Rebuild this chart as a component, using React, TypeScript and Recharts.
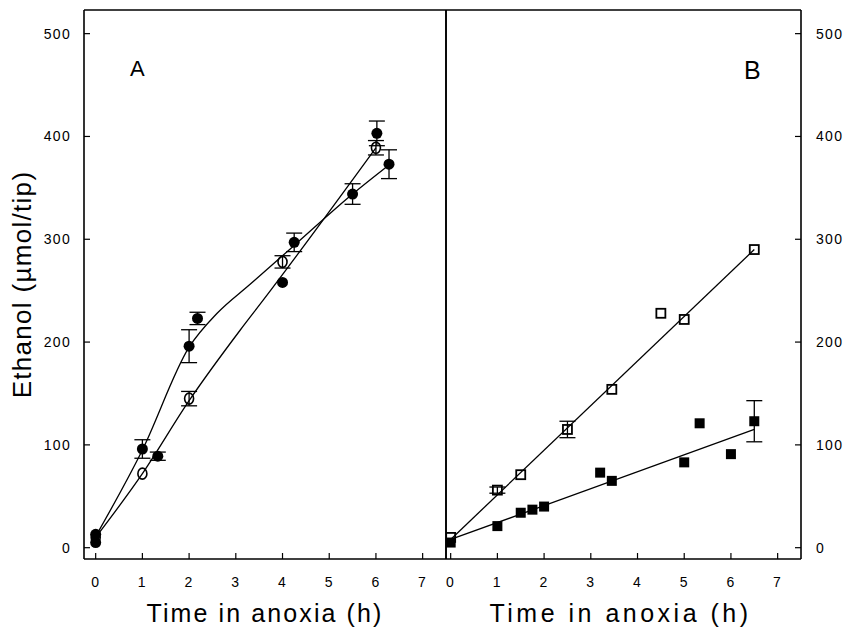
import { ComposedChart, Scatter, Line, XAxis, YAxis, ErrorBar } from "recharts";

const FONT = "'Liberation Sans', Arial, Helvetica, sans-serif";

// axis ticks
const X_TICKS = [0, 1, 2, 3, 4, 5, 6, 7];
const Y_TICKS = [0, 100, 200, 300, 400, 500];

// Panel A - open circles
const aOpenX = [0, 1, 2, 4, 6];
const aOpenY = [10, 72, 145, 278, 389];
const aOpenErr = [0, 0, 7, 6, 7];

// Panel A - filled circles
const aFilledX = [0, 0, 1, 1.33, 2, 2.18, 4, 4.25, 5.5, 6.02, 6.28];
const aFilledY = [5, 13, 96, 89, 196, 223, 258, 297, 344, 403, 373];
const aFilledErr = [0, 0, 9, 4, 16, 6, 0, 9, 10, 12, 14];

// Panel A - fitted curves
const aFit1X = [0, 1, 2, 2.6, 3.3, 4.25, 5.5, 6.3];
const aFit1Y = [11, 95, 195, 228, 256, 294, 344, 373];
const aFit2X = [0, 1, 2, 3.1, 3.59, 6];
const aFit2Y = [10, 72, 143, 212, 241, 389];

// Panel B - open squares
const bOpenX = [0, 1, 1.5, 2.5, 3.45, 4.5, 5, 6.5];
const bOpenY = [10, 56, 71, 115, 154, 228, 222, 290];
const bOpenErr = [0, 3, 0, 8, 0, 0, 0, 0];

// Panel B - filled squares
const bFilledX = [0, 1, 1.5, 1.75, 2, 3.2, 3.45, 5, 5.33, 6, 6.5];
const bFilledY = [5, 21, 34, 37, 40, 73, 65, 83, 121, 91, 123];
const bFilledErr = [0, 0, 0, 0, 0, 0, 0, 0, 0, 0, 20];

// Panel B - regression lines
const bFit1X = [0, 6.5];
const bFit1Y = [8, 290];
const bFit2X = [0, 6.5];
const bFit2Y = [8, 115];

const pts = (xs: number[], ys: number[], errs?: number[]) =>
  xs.map((x, i) => ({ x, y: ys[i], err: errs ? errs[i] : 0 }));

const FilledCircle = (p: any) => <circle cx={p.cx} cy={p.cy} r={5.5} fill="#000" />;
const OpenCircle = (p: any) => (
  <ellipse cx={p.cx} cy={p.cy} rx={4.5} ry={5.5} fill="none" stroke="#000" strokeWidth={1.6} />
);
const FilledSquare = (p: any) => <rect x={p.cx - 5} y={p.cy - 5} width={10} height={10} fill="#000" />;
const OpenSquare = (p: any) => (
  <rect x={p.cx - 4.5} y={p.cy - 4.5} width={9} height={9} fill="none" stroke="#000" strokeWidth={1.8} />
);

const tickStyle = { fill: "#000", fontSize: 14, fontFamily: FONT, letterSpacing: 1.3 };
const axisLine = { stroke: "#000", strokeWidth: 1.6 };
const tickLine = { stroke: "#000", strokeWidth: 1.2 };
const Y_DOMAIN = [-11, 523];

function Panel({ which }: { which: "A" | "B" }) {
  const isA = which === "A";
  const xDomain = isA ? [-0.25, 7.5] : [-0.1, 7.5];
  const width = isA ? 448 : 402;
  return (
    <ComposedChart width={width} height={631} margin={{ top: 0, right: isA ? 1 : 0, bottom: 0, left: 0 }}>
      <XAxis
        dataKey="x"
        type="number"
        domain={xDomain}
        ticks={X_TICKS}
        allowDataOverflow
        height={72}
        axisLine={axisLine}
        tickLine={tickLine}
        tickSize={-6}
        tickMargin={24}
        tick={tickStyle}
        label={{
          value: "Time in anoxia (h)",
          position: "insideBottom",
          offset: 9,
          dx: isA ? 0 : -3,
          style: { fontSize: 25, fontFamily: FONT, fill: "#000", letterSpacing: isA ? 2.1 : 3.5 },
        }}
      />
      <XAxis
        xAxisId="top"
        orientation="top"
        dataKey="x"
        type="number"
        domain={xDomain}
        ticks={X_TICKS}
        allowDataOverflow
        height={10}
        axisLine={axisLine}
        tickLine={tickLine}
        tickSize={-6}
        tick={false}
      />
      <YAxis
        dataKey="y"
        type="number"
        domain={Y_DOMAIN}
        ticks={Y_TICKS}
        allowDataOverflow
        width={isA ? 84 : 1}
        axisLine={axisLine}
        tickLine={tickLine}
        tickSize={-6}
        tickMargin={19}
        tick={isA ? tickStyle : false}
        label={
          isA
            ? {
                value: "Ethanol (µmol/tip)",
                angle: -90,
                position: "insideLeft",
                offset: 22,
                style: { textAnchor: "middle", fontSize: 26, fontFamily: FONT, fill: "#000", letterSpacing: 1.3 },
              }
            : undefined
        }
      />
      <YAxis
        yAxisId="r"
        orientation="right"
        dataKey="y"
        type="number"
        domain={Y_DOMAIN}
        ticks={Y_TICKS}
        allowDataOverflow
        width={isA ? 1 : 46}
        axisLine={axisLine}
        tickLine={tickLine}
        tickSize={-6}
        tickMargin={21}
        tick={isA ? false : tickStyle}
      />

      {isA ? (
        <>
          <Line data={pts(aFit1X, aFit1Y)} dataKey="y" type="monotone" dot={false} stroke="#000" strokeWidth={1.3} isAnimationActive={false} />
          <Line data={pts(aFit2X, aFit2Y)} dataKey="y" type="monotone" dot={false} stroke="#000" strokeWidth={1.3} isAnimationActive={false} />
          <Scatter data={pts(aOpenX, aOpenY, aOpenErr)} dataKey="y" shape={OpenCircle} isAnimationActive={false}>
            <ErrorBar dataKey="err" direction="y" width={8} stroke="#000" strokeWidth={1.3} />
          </Scatter>
          <Scatter data={pts(aFilledX, aFilledY, aFilledErr)} dataKey="y" shape={FilledCircle} isAnimationActive={false}>
            <ErrorBar dataKey="err" direction="y" width={8} stroke="#000" strokeWidth={1.3} />
          </Scatter>
        </>
      ) : (
        <>
          <Line data={pts(bFit1X, bFit1Y)} dataKey="y" type="linear" dot={false} stroke="#000" strokeWidth={1.3} isAnimationActive={false} />
          <Line data={pts(bFit2X, bFit2Y)} dataKey="y" type="linear" dot={false} stroke="#000" strokeWidth={1.3} isAnimationActive={false} />
          <Scatter data={pts(bOpenX, bOpenY, bOpenErr)} dataKey="y" shape={OpenSquare} isAnimationActive={false}>
            <ErrorBar dataKey="err" direction="y" width={8} stroke="#000" strokeWidth={1.3} />
          </Scatter>
          <Scatter data={pts(bFilledX, bFilledY, bFilledErr)} dataKey="y" shape={FilledSquare} isAnimationActive={false}>
            <ErrorBar dataKey="err" direction="y" width={8} stroke="#000" strokeWidth={1.3} />
          </Scatter>
        </>
      )}
    </ComposedChart>
  );
}

export default function App() {
  return (
    <div style={{ position: "absolute", left: 0, top: 0, width: 848, height: 631, background: "#fff", fontFamily: FONT }}>
      <div style={{ position: "absolute", left: 0, top: 0 }}>
        <Panel which="A" />
      </div>
      <div style={{ position: "absolute", left: 445, top: 0 }}>
        <Panel which="B" />
      </div>
      {/* panel letters */}
      <div style={{ position: "absolute", left: 130, top: 57, fontSize: 22, lineHeight: "24px", color: "#000" }}>A</div>
      <div style={{ position: "absolute", left: 744, top: 56, fontSize: 25, lineHeight: "28px", color: "#000" }}>B</div>
    </div>
  );
}
